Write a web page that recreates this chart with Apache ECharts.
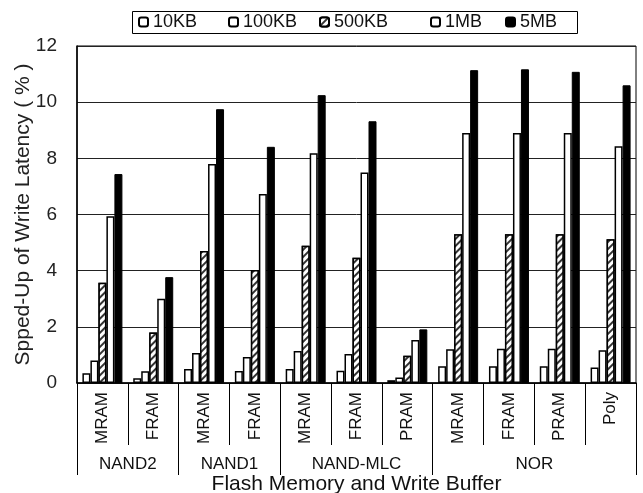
<!DOCTYPE html>
<html>
<head>
<meta charset="utf-8">
<script src="https://cdn.jsdelivr.net/npm/echarts@6/dist/echarts.min.js"></script>
<style>html,body{margin:0;padding:0;background:#fff}#c{width:643px;height:493px}</style>
</head>
<body>
<div id="c"></div>
<script>
const categories = ['MRAM','FRAM','MRAM','FRAM','MRAM','FRAM','PRAM','MRAM','FRAM','PRAM','Poly'];
const groups = ['NAND2','NAND1','NAND-MLC','NOR'];
const groupSpans = [2,2,3,4];
const seriesNames = ['10KB','100KB','500KB','1MB','5MB'];
const kb10  = [0.35,0.17,0.50,0.43,0.50,0.44,0.10,0.60,0.60,0.60,0.55];
const kb100 = [0.80,0.42,1.07,0.93,1.14,1.03,0.20,1.20,1.22,1.22,1.17];
const kb500 = [3.57,1.80,4.70,4.02,4.89,4.46,0.97,5.30,5.30,5.30,5.12];
const mb1   = [5.94,3.00,7.80,6.73,8.18,7.50,1.53,8.90,8.90,8.90,8.43];
const mb5   = [7.44,3.77,9.75,8.41,10.25,9.32,1.91,11.14,11.17,11.08,10.60];
const yTicks = [0,2,4,6,8,10,12];

const values = [kb10, kb100, kb500, mb1, mb5];
const FONT = 'Liberation Sans, Arial, sans-serif';

const bounds = [0];
groupSpans.forEach(s => bounds.push(bounds[bounds.length-1] + s));
const centers = groups.map((g,i) => (bounds[i] + bounds[i+1]) / 2);

const styles = [
  {color:'#fff', borderColor:'#000', borderWidth:1.5},
  {color:'#fff', borderColor:'#000', borderWidth:1.5},
  {color:'#fff', borderColor:'#000', borderWidth:1.5,
   decal:{symbol:'rect', symbolSize:1, dashArrayX:[1,0], dashArrayY:[1.2,2.3], rotation:-Math.PI/4, color:'#333', backgroundColor:'#fff'}},
  {color:'#fff', borderColor:'#000', borderWidth:1.5},
  {color:'#000', borderColor:'#000', borderWidth:1}
];

const legendLefts = [138, 228, 319, 430, 505];

const chart = echarts.init(document.getElementById('c'), null, {renderer:'canvas'});
chart.setOption({
  animation:false,
  backgroundColor:'#fff',
  textStyle:{fontFamily:FONT},
  graphic:[{type:'rect', shape:{x:132.5, y:11.5, width:445, height:22}, style:{fill:'none', stroke:'#000', lineWidth:1}}],
  legend: seriesNames.map((n,i) => ({
    data:[n], left:legendLefts[i], top:13, itemWidth:9, itemHeight:9, padding:0,
    textStyle:{fontSize:18, color:'#111', fontFamily:FONT}
  })),
  grid:{left:77, right:7, top:46, bottom:110, show:true, borderColor:'#000', borderWidth:1,
        containLabel:false, outerBoundsMode:'none'},
  xAxis:[
    {type:'category', data:categories.map((c,i)=>String(i)), position:'bottom',
     axisLine:{show:true, lineStyle:{color:'#000', width:1.5}},
     axisTick:{show:true, interval:0, length:62, lineStyle:{color:'#000', width:1}},
     axisLabel:{interval:0, rotate:90, margin:9, fontSize:17, color:'#111', fontFamily:FONT,
       formatter:(v,i)=>categories[Number(v)]},
     splitLine:{show:false}},
    {type:'value', min:0, max:bounds[bounds.length-1], position:'bottom',
     axisLine:{show:false},
     axisTick:{show:true, customValues:bounds, length:92, lineStyle:{color:'#000', width:1}},
     axisLabel:{show:true, customValues:centers, margin:73, fontSize:17, color:'#111', fontFamily:FONT,
       formatter:(v)=>groups[centers.indexOf(v)]},
     splitLine:{show:false},
     name:'Flash Memory and Write Buffer', nameLocation:'middle', nameGap:91, nameMoveOverlap:false,
     nameTextStyle:{fontSize:21, color:'#111', fontFamily:FONT}}
  ],
  yAxis:{type:'value', min:yTicks[0], max:yTicks[yTicks.length-1], interval:2,
    axisLine:{show:true, lineStyle:{color:'#000', width:1.5}},
    axisTick:{show:false},
    axisLabel:{fontSize:19, color:'#222', margin:20, fontFamily:FONT},
    splitLine:{show:true, lineStyle:{color:'#222', width:1}},
    name:'Spped-Up of Write Latency ( % )', nameLocation:'middle', nameGap:43, nameMoveOverlap:false,
    nameTextStyle:{fontSize:21, color:'#222', fontFamily:FONT}},
  series: seriesNames.map((n,i) => ({
    name:n, type:'bar', xAxisIndex:0, data:values[i],
    barWidth:8, barGap:'0%', itemStyle:styles[i]
  }))
});
</script>
</body>
</html>
